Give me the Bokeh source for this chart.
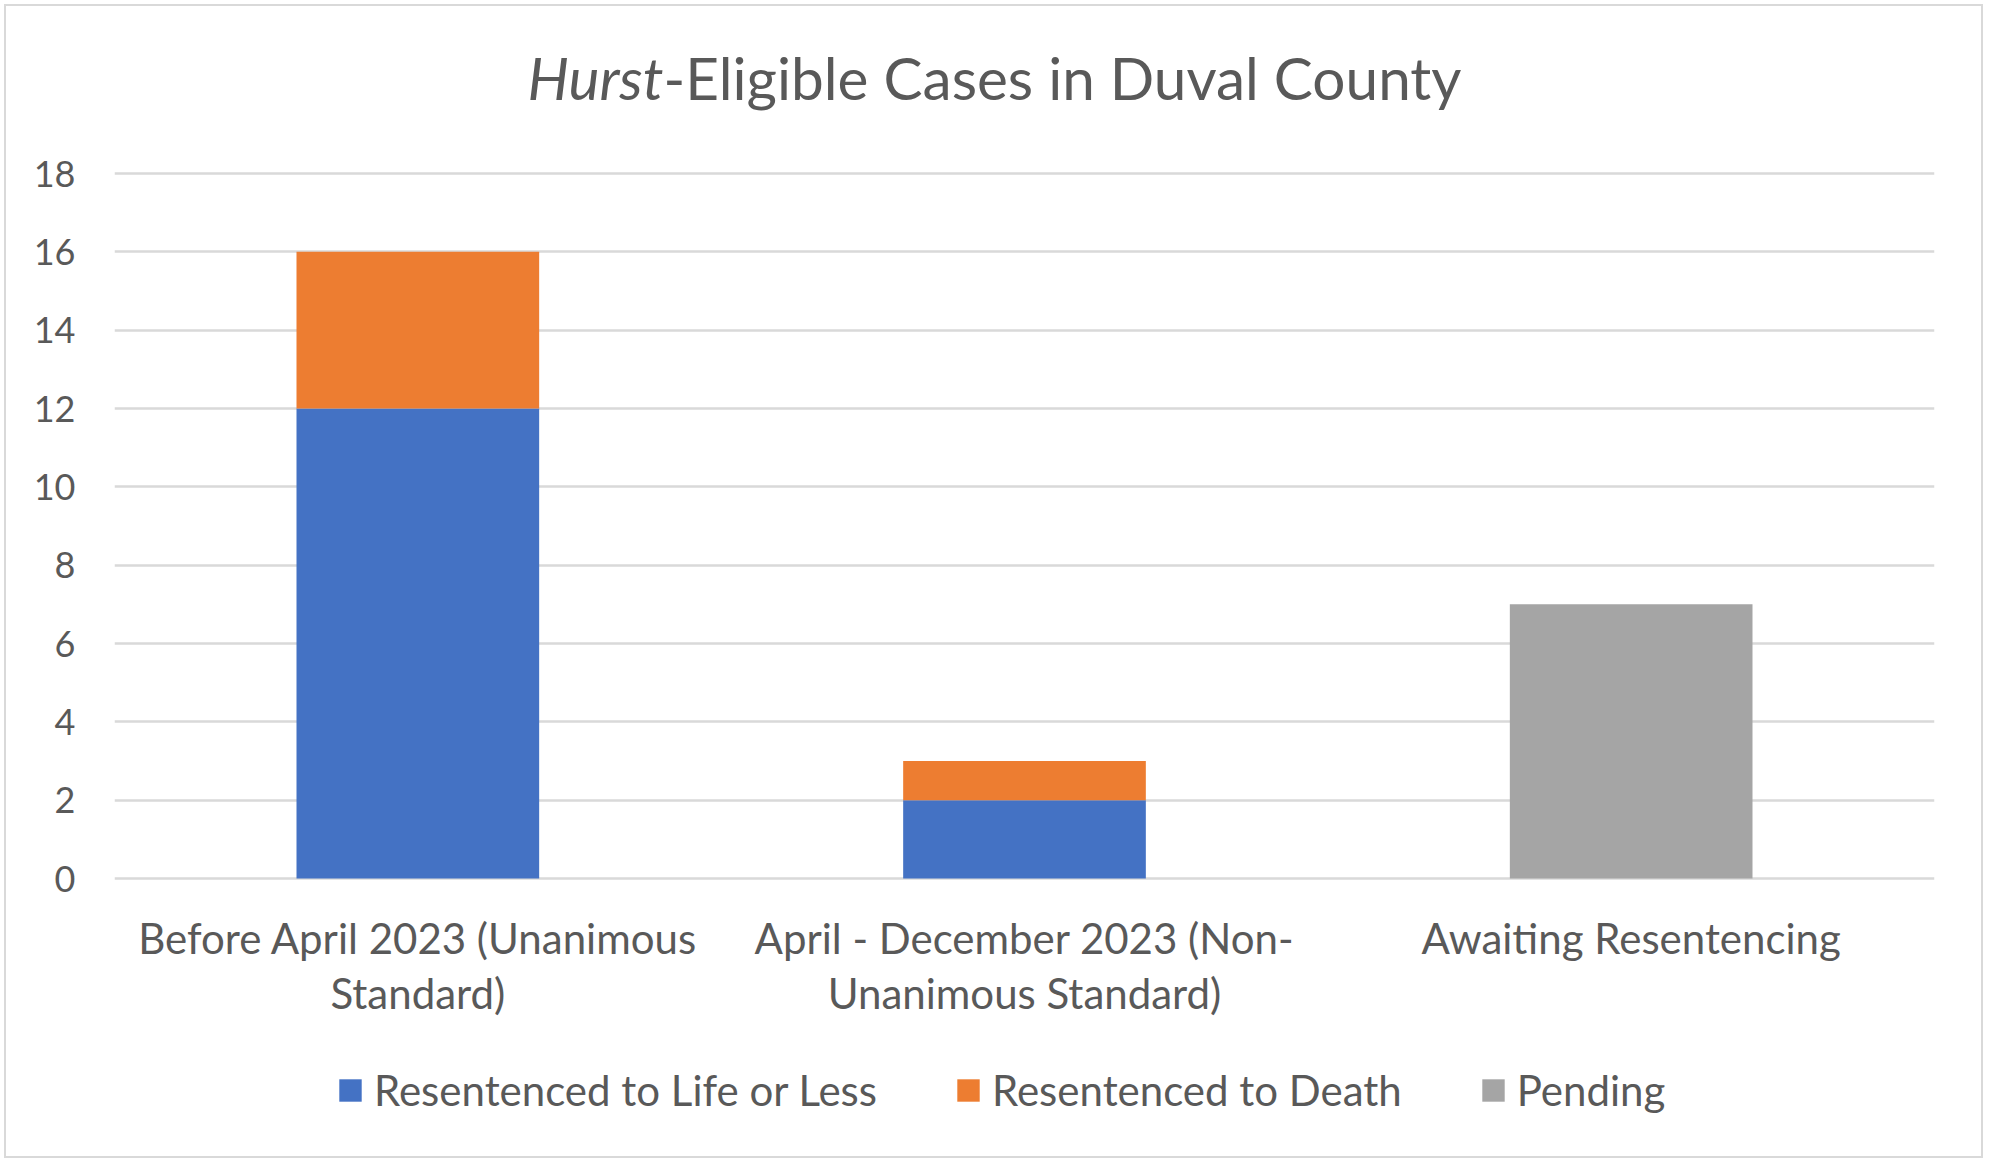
from bokeh.plotting import figure
from bokeh.models import (ColumnDataSource, FactorRange, Range1d, Label, Legend,
                          LegendItem, FixedTicker)
from bokeh.embed import file_html
from bokeh.resources import INLINE

# ---- data ----
categories = ["Before April 2023 (Unanimous\nStandard)",
              "April - December 2023 (Non-\nUnanimous Standard)",
              "Awaiting Resentencing"]
series_names = ["Resentenced to Life or Less", "Resentenced to Death", "Pending"]
life = [12, 2, 0]
death = [4, 1, 0]
pending = [0, 0, 7]
colors = ["#4472C4", "#ED7D31", "#A5A5A5"]
y_ticks = [0, 2, 4, 6, 8, 10, 12, 14, 16, 18]
title_italic = "Hurst"
title_rest = "-Eligible Cases in Duval County"

FONT = "Lato"
TXT = "#595959"

W, H = 1979, 1154
# vertical layout: value 18 at 167px from top, value 0 at 872px from top
PX_PER_UNIT = (872 - 167) / 18.0
y_lo = -(H - 872) / PX_PER_UNIT
y_hi = 18 + 167 / PX_PER_UNIT

source = ColumnDataSource(dict(cat=categories, life=life, death=death, pending=pending))

p = figure(width=W, height=H, x_range=FactorRange(*categories),
           y_range=Range1d(y_lo, y_hi), output_backend="svg",
           toolbar_location=None, min_border_left=108, min_border_right=51,
           min_border_top=0, min_border_bottom=0,
           background_fill_color="white", border_fill_color="white",
           outline_line_color=None,
           styles={"border": "2px solid #d9d9d9", "margin": "4px"})

rs = p.vbar_stack(["life", "death", "pending"], x="cat", width=0.4, source=source,
                  color=colors, line_color=None)

# axes
p.yaxis.ticker = FixedTicker(ticks=y_ticks)
for ax in (p.xaxis[0], p.yaxis[0]):
    ax.axis_line_color = None
    ax.major_tick_line_color = None
    ax.minor_tick_line_color = None
    ax.major_tick_in = 0
    ax.major_tick_out = 0
    ax.major_label_text_font = FONT
    ax.major_label_text_color = TXT
p.yaxis.major_label_text_font_size = "36px"
p.yaxis.major_label_standoff = 39
p.xaxis.fixed_location = 0
p.xaxis.major_label_text_font_size = "42px"
p.xaxis.major_label_standoff = 34
p.xaxis.major_label_text_line_height = 1.1

p.xgrid.grid_line_color = None
p.ygrid.grid_line_color = "#d9d9d9"
p.ygrid.grid_line_width = 2.5

# title (italic part + regular part), positioned in screen px from frame bottom-left
TITLE_X, TITLE_Y = 549, H - 70
p.add_layout(Label(x=TITLE_X, y=TITLE_Y, x_units="screen", y_units="screen", text=title_italic,
                   text_font=FONT, text_font_style="italic", text_font_size="58.5px",
                   text_color=TXT, text_align="right", text_baseline="alphabetic"))
p.add_layout(Label(x=TITLE_X, y=TITLE_Y, x_units="screen", y_units="screen", text=title_rest,
                   text_font=FONT, text_font_size="58.5px",
                   text_color=TXT, text_align="left", text_baseline="alphabetic"))

legend = Legend(items=[LegendItem(label=n, renderers=[r]) for n, r in zip(series_names, rs)],
                orientation="horizontal", location=(222, 45),
                glyph_width=28, glyph_height=28, label_standoff=10, spacing=77,
                padding=0, margin=0, border_line_color=None, background_fill_alpha=0,
                label_text_font=FONT, label_text_font_size="42px", label_text_color=TXT)
p.add_layout(legend)

open("out.html", "w").write(file_html(p, INLINE))
